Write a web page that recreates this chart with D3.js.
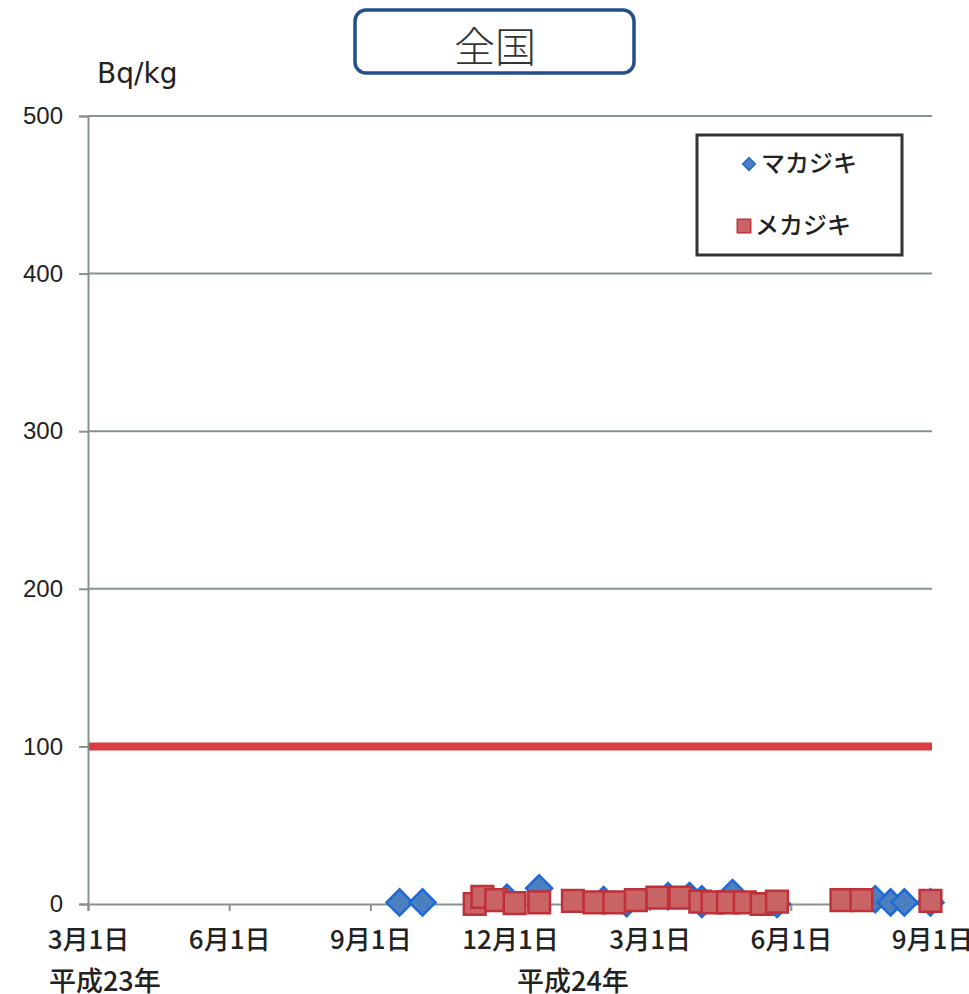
<!DOCTYPE html>
<html>
<head>
<meta charset="utf-8">
<script src="https://cdn.jsdelivr.net/npm/d3@7"></script>
<style>
  body { margin: 0; background: #fff; }
  svg { display: block; }
</style>
</head>
<body>
<div id="chart"></div>
<script>
// マカジキ (blue diamonds)
var makaDates = ['2011-09-20', '2011-10-05', '2011-11-29', '2011-12-20', '2012-01-31', '2012-02-15',
  '2012-03-13', '2012-03-27', '2012-04-04', '2012-04-04', '2012-04-24', '2012-05-23',
  '2012-07-26', '2012-08-05', '2012-08-14', '2012-08-31'];
var makaValues = [1, 1, 4, 10, 2.5, 0.5, 5, 5, 3, 0, 7, 0, 3, 1, 1, 1];

// メカジキ (red squares)
var mekaDates = ['2011-11-08', '2011-11-13', '2011-11-22', '2011-12-04', '2011-12-20', '2012-01-11',
  '2012-01-25', '2012-02-07', '2012-02-21', '2012-03-06', '2012-03-21', '2012-04-03',
  '2012-04-11', '2012-04-21', '2012-05-02', '2012-05-13', '2012-05-23', '2012-07-04',
  '2012-07-17', '2012-08-31'];
var mekaValues = [0, 4.5, 2.5, 0.5, 1, 2, 1, 1, 2.5, 4, 4, 1.5, 1, 1, 1, 0, 1.5, 2.5, 2.5, 2];

var limitValue = 100;
var yTicks = [0, 100, 200, 300, 400, 500];
var xTickDates = ['2011-03-01', '2011-06-01', '2011-09-01', '2011-12-01', '2012-03-01', '2012-06-01', '2012-09-01'];
var yearLabels = ['平成23年', '平成24年'];
var yearLabelDates = ['2011-03-12', '2012-01-11'];
var seriesNames = ['マカジキ', 'メカジキ'];

var parse = d3.timeParse('%Y-%m-%d');
var W = 969, H = 994;
var plot = { left: 88, right: 932, top: 116, bottom: 904 };

var svg = d3.select('#chart').append('svg')
  .attr('width', W)
  .attr('height', H);

var x = d3.scaleTime()
  .domain([parse('2011-03-01'), parse('2012-09-01')])
  .range([plot.left, plot.right]);
var y = d3.scaleLinear()
  .domain([0, 500])
  .range([plot.bottom, plot.top]);

var gridColor = '#86928c';
var cjk = '"Noto Sans CJK JP", "Noto Sans", sans-serif';

// gridlines
svg.append('g')
  .selectAll('line')
  .data(yTicks.slice(1))
  .enter().append('line')
  .attr('x1', plot.left)
  .attr('x2', plot.right)
  .attr('y1', function(d) { return y(d); })
  .attr('y2', function(d) { return y(d); })
  .attr('stroke', gridColor)
  .attr('stroke-width', 2);

// y axis
var yAxis = svg.append('g')
  .attr('transform', 'translate(' + plot.left + ',0)')
  .call(d3.axisLeft(y).tickValues(yTicks).tickSize(9).tickPadding(16));
yAxis.select('.domain').attr('stroke', gridColor).attr('stroke-width', 2);
yAxis.selectAll('.tick line').attr('stroke', gridColor).attr('stroke-width', 2);
yAxis.selectAll('.tick text')
  .attr('font-family', '"Liberation Sans", Arial, sans-serif')
  .attr('font-size', 24)
  .attr('fill', '#222');

// x axis
var xAxis = svg.append('g')
  .attr('transform', 'translate(0,' + plot.bottom + ')')
  .call(d3.axisBottom(x)
    .tickValues(xTickDates.map(parse))
    .tickSize(7)
    .tickPadding(20)
    .tickFormat(function(d) { return (d.getMonth() + 1) + '月' + d.getDate() + '日'; }));
xAxis.select('.domain').attr('stroke', gridColor).attr('stroke-width', 2);
xAxis.selectAll('.tick line').attr('stroke', gridColor).attr('stroke-width', 2);
xAxis.selectAll('.tick text')
  .attr('font-family', cjk)
  .attr('font-size', 26)
  .attr('font-weight', 500)
  .attr('fill', '#222');

svg.append('g')
  .selectAll('text')
  .data(yearLabels)
  .enter().append('text')
  .attr('x', function(d, i) { return x(parse(yearLabelDates[i])); })
  .attr('y', 991)
  .attr('text-anchor', 'middle')
  .attr('font-family', cjk)
  .attr('font-size', 27)
  .attr('font-weight', 500)
  .attr('fill', '#222')
  .text(function(d) { return d; });

// limit line
svg.append('line')
  .attr('x1', plot.left + 1)
  .attr('x2', plot.right)
  .attr('y1', y(limitValue))
  .attr('y2', y(limitValue))
  .attr('stroke', '#d93c42')
  .attr('stroke-width', 8);

// markers
var diamond = d3.symbol().type(d3.symbolSquare).size(340);
var square = d3.symbol().type(d3.symbolSquare).size(470);

svg.append('g')
  .selectAll('path')
  .data(makaValues)
  .enter().append('path')
  .attr('d', diamond)
  .attr('transform', function(d, i) {
    return 'translate(' + x(parse(makaDates[i])) + ',' + y(d) + ') rotate(45)';
  })
  .attr('fill', '#4c7fc0')
  .attr('stroke', '#1f6ad2')
  .attr('stroke-width', 2.5);

svg.append('g')
  .selectAll('path')
  .data(mekaValues)
  .enter().append('path')
  .attr('d', square)
  .attr('transform', function(d, i) {
    return 'translate(' + x(parse(mekaDates[i])) + ',' + y(d) + ')';
  })
  .attr('fill', '#c96466')
  .attr('stroke', '#bf3038')
  .attr('stroke-width', 2.5);

// unit
svg.append('text')
  .attr('x', 97)
  .attr('y', 83)
  .attr('font-family', '"DejaVu Sans", sans-serif')
  .attr('font-size', 28)
  .attr('fill', '#222')
  .text('Bq/kg');

// title box
svg.append('rect')
  .attr('x', 355)
  .attr('y', 10)
  .attr('width', 279)
  .attr('height', 63)
  .attr('rx', 11)
  .attr('fill', '#fff')
  .attr('stroke', '#234f8e')
  .attr('stroke-width', 3.5);
svg.append('text')
  .attr('x', 495)
  .attr('y', 62)
  .attr('text-anchor', 'middle')
  .attr('font-family', cjk)
  .attr('font-size', 41)
  .attr('font-weight', 300)
  .attr('fill', '#333')
  .text('全国');

// legend
var legend = svg.append('g');
legend.append('rect')
  .attr('x', 697)
  .attr('y', 135)
  .attr('width', 205)
  .attr('height', 120)
  .attr('fill', '#fff')
  .attr('stroke', '#333')
  .attr('stroke-width', 3);
legend.append('path')
  .attr('d', d3.symbol().type(d3.symbolSquare).size(80))
  .attr('transform', 'translate(749,164) rotate(45)')
  .attr('fill', '#4c7fc0')
  .attr('stroke', '#1f6ad2')
  .attr('stroke-width', 1.5);
legend.append('path')
  .attr('d', d3.symbol().type(d3.symbolSquare).size(180))
  .attr('transform', 'translate(744,226)')
  .attr('fill', '#c96466')
  .attr('stroke', '#bf3038')
  .attr('stroke-width', 1.5);
legend.selectAll('text')
  .data(seriesNames)
  .enter().append('text')
  .attr('x', function(d, i) { return i === 0 ? 761 : 755; })
  .attr('y', function(d, i) { return i === 0 ? 164 : 226; })
  .attr('dy', '0.35em')
  .attr('font-family', cjk)
  .attr('font-size', 24)
  .attr('font-weight', 500)
  .attr('fill', '#222')
  .text(function(d) { return d; });
</script>
</body>
</html>
